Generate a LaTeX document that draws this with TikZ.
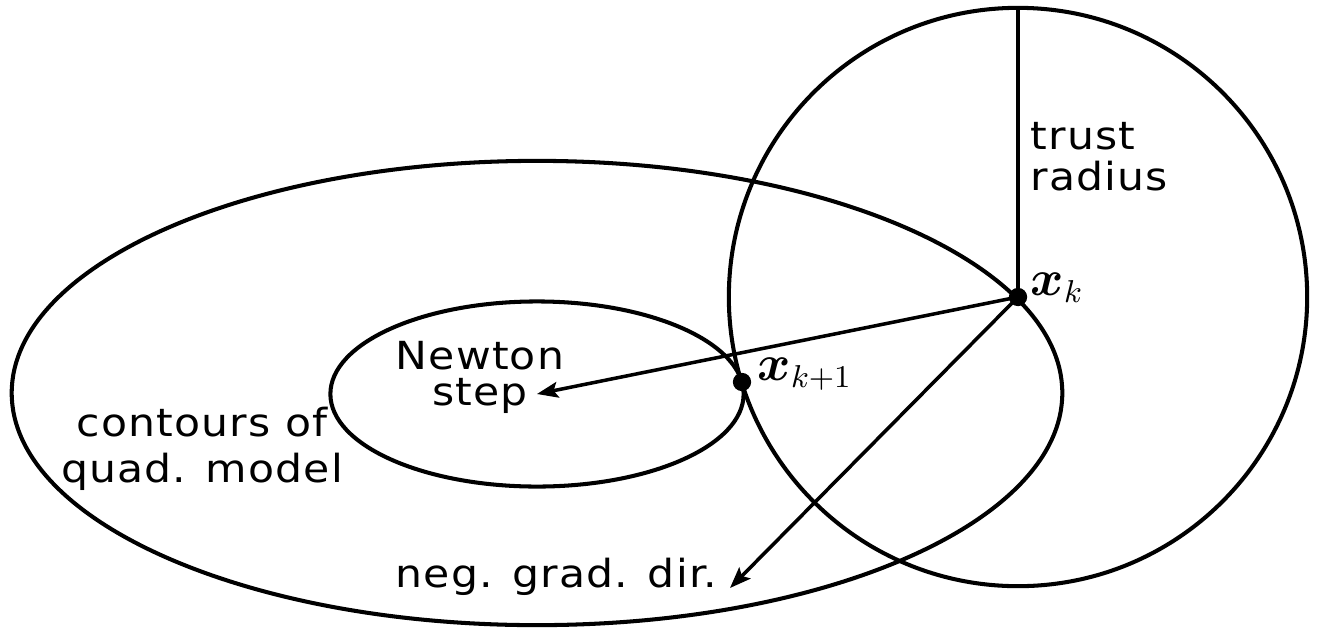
\documentclass[tikz,border=0pt]{standalone}
\usepackage{fontspec}
\setmainfont{DejaVu Sans}[FakeStretch=1.1,LetterSpace=3]
\usepackage{bm}
\usetikzlibrary{arrows.meta}
\begin{document}
\begin{tikzpicture}[x=0.01cm,y=-0.01cm,
  curve/.style={line width=1.15pt},
  ray/.style={line width=1pt},
  arr/.style={ray,-{Stealth[length=6pt,width=4.5pt,inset=1.2pt]}},
  dot/.style={circle,fill=black,inner sep=0pt,minimum size=5.2pt},
  lbl/.style={inner sep=0pt,align=center},
  mlbl/.style={font=\fontsize{13.5}{14}\selectfont,inner sep=0pt}]
\useasboundingbox (0,0) rectangle (1318,627);
% contours of quadratic model
\draw[curve] (537,393) ellipse [x radius=5.25cm, y radius=2.32cm];
\draw[curve] (537,394) ellipse [x radius=2.065cm, y radius=0.925cm];
% trust region
\draw[curve] (1018,297) circle [radius=2.89cm];
% points
\node[dot] (xk) at (1018,297) {};
\node[dot] (xk1) at (742,382) {};
\coordinate (top) at (1018,8);
\coordinate (nt) at (537,394);
\coordinate (ng) at (730,588);
\draw[ray] (xk.center) -- (top);
\draw[arr] (xk.center) -- (nt);
\draw[arr] (xk.center) -- (ng);
% labels
\node[lbl,anchor=base west,align=left,font=\fontsize{11}{11.4}\selectfont] (tr) at (1030,190) {trust\\radius};
\node[mlbl,anchor=base west] (lxk) at (1030,295) {$\bm{x}_k$};
\node[mlbl,anchor=base west] (lxk1) at (757,380) {$\bm{x}_{k+1}$};
\node[lbl,anchor=base,font=\fontsize{11}{10}\selectfont] (ns) at (480,405) {Newton\\step};
\node[lbl,anchor=base,font=\fontsize{11}{12.8}\selectfont] (cq) at (202,482) {contours of\\quad. model};
\node[lbl,anchor=base east,font=\fontsize{11}{12}\selectfont] (ngd) at (718,587) {neg. grad. dir.};
\end{tikzpicture}
\end{document}
